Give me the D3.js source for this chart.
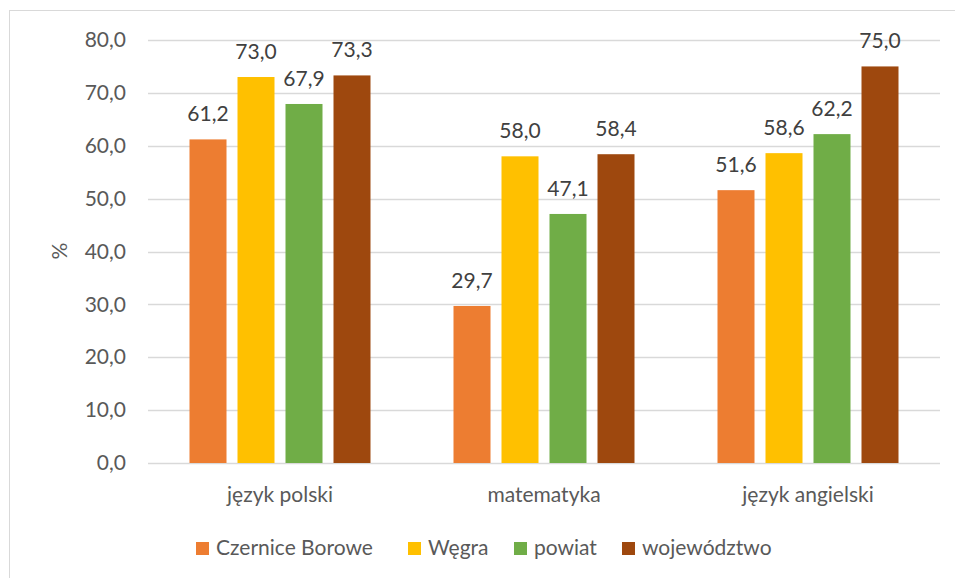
<!DOCTYPE html>
<html>
<head>
<meta charset="utf-8">
<script src="https://cdn.jsdelivr.net/npm/d3@7"></script>
<style>
  body { margin: 0; background: #fff; }
  text { font-family: Lato, "Open Sans", sans-serif; }
</style>
</head>
<body>
<div id="chart"></div>
<script>
// Data
var subjects = ["język polski", "matematyka", "język angielski"];
var seriesNames = ["Czernice Borowe", "Węgra", "powiat", "województwo"];
var seriesColors = ["#ed7d31", "#ffc000", "#70ad47", "#9e480e"];
var czerniceBorowe = [61.2, 29.7, 51.6];
var wegra = [73.0, 58.0, 58.6];
var powiat = [67.9, 47.1, 62.2];
var wojewodztwo = [73.3, 58.4, 75.0];
var yTicks = [0, 10, 20, 30, 40, 50, 60, 70, 80];

var seriesValues = [czerniceBorowe, wegra, powiat, wojewodztwo];

var svgWidth = 955;
var svgHeight = 578;
var fontSize = "21px";

var svg = d3.select("#chart")
  .append("svg")
  .attr("width", svgWidth)
  .attr("height", svgHeight);

// outer border
svg.append("rect")
  .attr("x", 9.5)
  .attr("y", 10.5)
  .attr("width", 960)
  .attr("height", 600)
  .attr("fill", "none")
  .attr("stroke", "#d9d9d9")
  .attr("stroke-width", 1);

var plot = { left: 148, right: 940, top: 40, bottom: 463 };

var x0 = d3.scaleBand()
  .domain(subjects)
  .range([plot.left, plot.right])
  .padding(0);

// 4 bars of 37px with 11px gaps inside each 264px band
var groupWidth = 181;
var x1 = d3.scaleBand()
  .domain(seriesNames)
  .range([-groupWidth / 2, groupWidth / 2])
  .paddingInner(11 / 48);

var y = d3.scaleLinear()
  .domain([0, 80])
  .range([plot.bottom, plot.top]);

// gridlines
svg.append("g")
  .selectAll("line")
  .data(yTicks)
  .enter()
  .append("line")
  .attr("x1", plot.left)
  .attr("x2", plot.right)
  .attr("y1", d => Math.round(y(d)) + 0.5)
  .attr("y2", d => Math.round(y(d)) + 0.5)
  .attr("stroke", "#d9d9d9")
  .attr("stroke-width", 1.5);

// y axis labels
var yAxis = d3.axisLeft(y)
  .tickValues(yTicks)
  .tickSize(0)
  .tickPadding(0)
  .tickFormat(d => d3.format(".1f")(d).replace(".", ","));

var yAxisG = svg.append("g")
  .attr("transform", "translate(126,0)")
  .call(yAxis);
yAxisG.select(".domain").remove();
yAxisG.selectAll("text")
  .attr("fill", "#595959")
  .attr("font-size", fontSize)
  .style("font-family", "Lato, 'Open Sans', sans-serif");

// y axis title
svg.append("text")
  .attr("transform", "translate(67,251) rotate(-90)")
  .attr("text-anchor", "middle")
  .attr("fill", "#595959")
  .attr("font-size", fontSize)
  .text("%");

// bars
var groups = svg.append("g")
  .selectAll("g")
  .data(subjects)
  .enter()
  .append("g")
  .attr("transform", d => `translate(${x0(d) + x0.bandwidth() / 2},0)`);

groups.selectAll("rect")
  .data((d, i) => seriesNames.map((s, j) => ({ series: s, value: seriesValues[j][i], color: seriesColors[j] })))
  .enter()
  .append("rect")
  .attr("x", d => x1(d.series))
  .attr("width", x1.bandwidth())
  .attr("y", d => y(d.value))
  .attr("height", d => y(0) - y(d.value))
  .attr("fill", d => d.color);

// value labels
groups.selectAll("text")
  .data((d, i) => seriesNames.map((s, j) => ({ series: s, value: seriesValues[j][i] })))
  .enter()
  .append("text")
  .attr("x", d => x1(d.series) + x1.bandwidth() / 2)
  .attr("y", d => y(d.value) - 18)
  .attr("text-anchor", "middle")
  .attr("fill", "#404040")
  .attr("font-size", fontSize)
  .text(d => d3.format(".1f")(d.value).replace(".", ","));

// category labels
svg.append("g")
  .selectAll("text")
  .data(subjects)
  .enter()
  .append("text")
  .attr("x", d => x0(d) + x0.bandwidth() / 2)
  .attr("y", 502)
  .attr("text-anchor", "middle")
  .attr("fill", "#595959")
  .attr("font-size", fontSize)
  .text(d => d);

// legend
var legendX = [196, 408, 514, 622];
var legend = svg.append("g")
  .selectAll("g")
  .data(seriesNames)
  .enter()
  .append("g")
  .attr("transform", (d, i) => `translate(${legendX[i]},542)`);

legend.append("rect")
  .attr("width", 13)
  .attr("height", 13)
  .attr("fill", (d, i) => seriesColors[i]);

legend.append("text")
  .attr("x", 20)
  .attr("y", 13)
  .attr("fill", "#595959")
  .attr("font-size", fontSize)
  .text(d => d);
</script>
</body>
</html>
